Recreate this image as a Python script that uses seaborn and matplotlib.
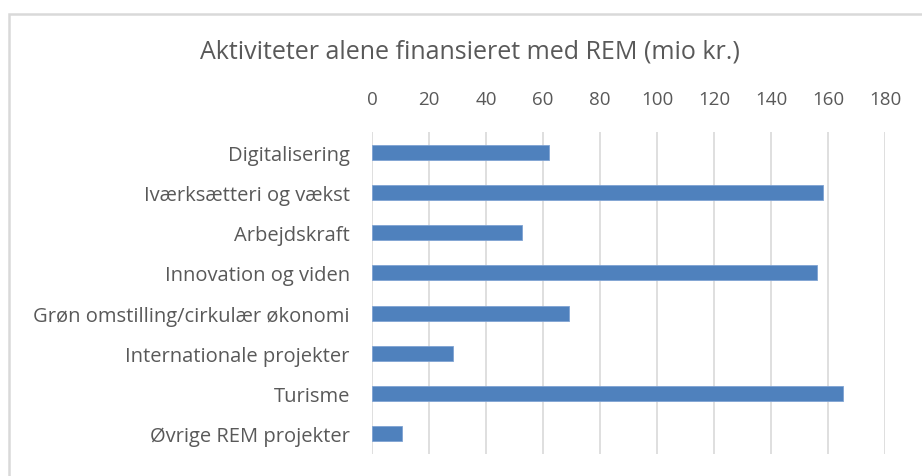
import matplotlib
matplotlib.use("Agg")
import matplotlib.pyplot as plt
import seaborn as sns
import pandas as pd
from matplotlib.patches import Rectangle

categories = [
    "Digitalisering",
    "Iværksætteri og vækst",
    "Arbejdskraft",
    "Innovation og viden",
    "Grøn omstilling/cirkulær økonomi",
    "Internationale projekter",
    "Turisme",
    "Øvrige REM projekter",
]
values = [62.2, 158.2, 52.7, 156.3, 69.1, 28.5, 165.3, 10.5]
xticks = [0, 20, 40, 60, 80, 100, 120, 140, 160, 180]
title = "Aktiviteter alene finansieret med REM (mio kr.)"

df = pd.DataFrame({"Aktivitet": categories, "Beløb": values})

sns.set_style("white")
plt.rcParams["font.family"] = ["Open Sans", "DejaVu Sans"]
textcol = "#595959"

fig = plt.figure(figsize=(9.22, 4.77), dpi=100)
ax = fig.add_axes([372 / 922, 1 - 455 / 477, 513 / 922, 322 / 477])

sns.barplot(data=df, x="Beløb", y="Aktivitet", orient="h", color="#4f81bd",
            saturation=1, width=0.37, edgecolor="#7fa3d3", linewidth=0.6, ax=ax)

ax.set_xlim(0, 180)
ax.set_xticks(xticks)
ax.xaxis.tick_top()
ax.tick_params(axis="x", length=0, pad=17, labelsize=13.5, labelcolor=textcol)
ax.tick_params(axis="y", length=0, pad=16, labelsize=14.5, labelcolor=textcol)
ax.grid(axis="x", color="#d9d9d9", linewidth=1.2)
ax.set_axisbelow(True)
for s in ax.spines.values():
    s.set_visible(False)
ax.set_xlabel("")
ax.set_ylabel("")

fig.text(470 / 922, 1 - 52 / 477, title, ha="center", va="center",
         fontsize=18, color=textcol)

# chart frame (screenshot border)
fig.patches.append(Rectangle((8.5 / 922, -0.05), 1.2, 1 - 14.5 / 477 + 0.05,
                             transform=fig.transFigure, fill=False,
                             edgecolor="#d9d9d9", linewidth=1.8))

fig.savefig("out.png", dpi=100)
